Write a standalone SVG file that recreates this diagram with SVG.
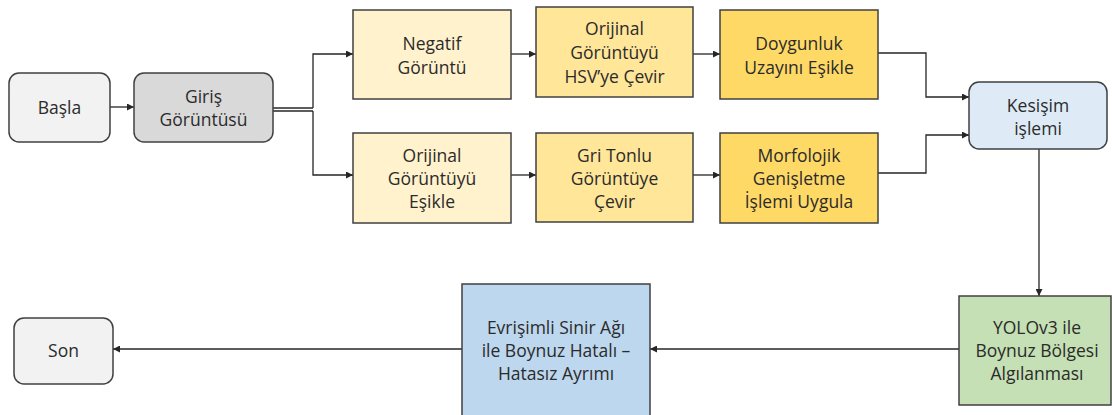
<svg xmlns="http://www.w3.org/2000/svg" width="1112" height="415" viewBox="0 0 1112 415">
  <style>
    .box { stroke: #404040; stroke-width: 1.5; }
    .lbl { font-family: "Open Sans", Lato, sans-serif; font-size: 17.5px; fill: #2b2b2b; text-anchor: middle; dominant-baseline: central; }
    .wire { fill: none; stroke: #262626; stroke-width: 1.3; }
  </style>
  <defs>
    <marker id="arrow" viewBox="0 0 10 10" refX="10" refY="5" markerWidth="7" markerHeight="7" markerUnits="userSpaceOnUse" orient="auto">
      <path d="M0,0 L10,5 L0,10 z" fill="#262626"/>
    </marker>
  </defs>
  <rect width="1112" height="415" fill="#ffffff"/>

  <g id="connectors">
    <line class="wire" x1="110" y1="107" x2="134" y2="107" marker-end="url(#arrow)"/>
    <path class="wire" d="M273,108 H313"/>
    <path class="wire" d="M273,111 H313"/>
    <path class="wire" d="M313,108 V54 H353" marker-end="url(#arrow)"/>
    <path class="wire" d="M313,111 V175 H353" marker-end="url(#arrow)"/>
    <line class="wire" x1="511" y1="54" x2="536" y2="54" marker-end="url(#arrow)"/>
    <line class="wire" x1="693" y1="54" x2="720" y2="54" marker-end="url(#arrow)"/>
    <line class="wire" x1="511" y1="175" x2="536" y2="175" marker-end="url(#arrow)"/>
    <line class="wire" x1="693" y1="175" x2="720" y2="175" marker-end="url(#arrow)"/>
    <path class="wire" d="M878,53 H926 V97 H969" marker-end="url(#arrow)"/>
    <path class="wire" d="M878,173 H926 V135 H969" marker-end="url(#arrow)"/>
    <path class="wire" d="M1039,149 V296" marker-end="url(#arrow)"/>
    <line class="wire" x1="959" y1="349" x2="650" y2="349" marker-end="url(#arrow)"/>
    <line class="wire" x1="462" y1="349" x2="113" y2="349" marker-end="url(#arrow)"/>
  </g>

  <g id="basla">
    <rect class="box" x="9" y="73" width="101" height="69" rx="10" fill="#f2f2f2"/>
    <text class="lbl" x="59.5" y="107">Başla</text>
  </g>

  <g id="giris">
    <rect class="box" x="134" y="73" width="139" height="69" rx="10" fill="#d9d9d9"/>
    <text class="lbl" x="203.5" y="96">Giriş</text>
    <text class="lbl" x="203.5" y="119">Görüntüsü</text>
  </g>

  <g id="negatif">
    <rect class="box" x="353" y="10" width="158" height="89" fill="#fff2cc"/>
    <text class="lbl" x="432" y="43">Negatif</text>
    <text class="lbl" x="432" y="67">Görüntü</text>
  </g>

  <g id="hsv">
    <rect class="box" x="536" y="7" width="157" height="90" fill="#ffe699"/>
    <text class="lbl" x="614.5" y="28">Orijinal</text>
    <text class="lbl" x="614.5" y="52">Görüntüyü</text>
    <text class="lbl" x="614.5" y="76">HSV’ye Çevir</text>
  </g>

  <g id="doygunluk">
    <rect class="box" x="720" y="10" width="158" height="89" fill="#ffd966"/>
    <text class="lbl" x="799" y="43">Doygunluk</text>
    <text class="lbl" x="799" y="67">Uzayını Eşikle</text>
  </g>

  <g id="esikle">
    <rect class="box" x="353" y="133" width="158" height="90" fill="#fff2cc"/>
    <text class="lbl" x="432" y="155">Orijinal</text>
    <text class="lbl" x="432" y="178">Görüntüyü</text>
    <text class="lbl" x="432" y="201">Eşikle</text>
  </g>

  <g id="gri">
    <rect class="box" x="536" y="133" width="157" height="89" fill="#ffe699"/>
    <text class="lbl" x="614.5" y="155">Gri Tonlu</text>
    <text class="lbl" x="614.5" y="178">Görüntüye</text>
    <text class="lbl" x="614.5" y="201">Çevir</text>
  </g>

  <g id="morfolojik">
    <rect class="box" x="720" y="133" width="158" height="90" fill="#ffd966"/>
    <text class="lbl" x="799" y="155">Morfolojik</text>
    <text class="lbl" x="799" y="178">Genişletme</text>
    <text class="lbl" x="799" y="201">İşlemi Uygula</text>
  </g>

  <g id="kesisim">
    <rect class="box" x="969" y="82" width="138" height="67" rx="10" fill="#deebf7"/>
    <text class="lbl" x="1038" y="105">Kesişim</text>
    <text class="lbl" x="1038" y="128">işlemi</text>
  </g>

  <g id="yolo">
    <rect class="box" x="959" y="296" width="152" height="109" fill="#c5e0b4"/>
    <text class="lbl" x="1037" y="327">YOLOv3 ile</text>
    <text class="lbl" x="1037" y="350">Boynuz Bölgesi</text>
    <text class="lbl" x="1037" y="373">Algılanması</text>
  </g>

  <g id="cnn">
    <rect class="box" x="462" y="284" width="188" height="140" fill="#bdd7ee"/>
    <text class="lbl" x="556" y="327">Evrişimli Sinir Ağı</text>
    <text class="lbl" x="556" y="350">ile Boynuz Hatalı –</text>
    <text class="lbl" x="556" y="373">Hatasız Ayrımı</text>
  </g>

  <g id="son">
    <rect class="box" x="14" y="318" width="99" height="66" rx="10" fill="#f2f2f2"/>
    <text class="lbl" x="63.5" y="350">Son</text>
  </g>
</svg>
